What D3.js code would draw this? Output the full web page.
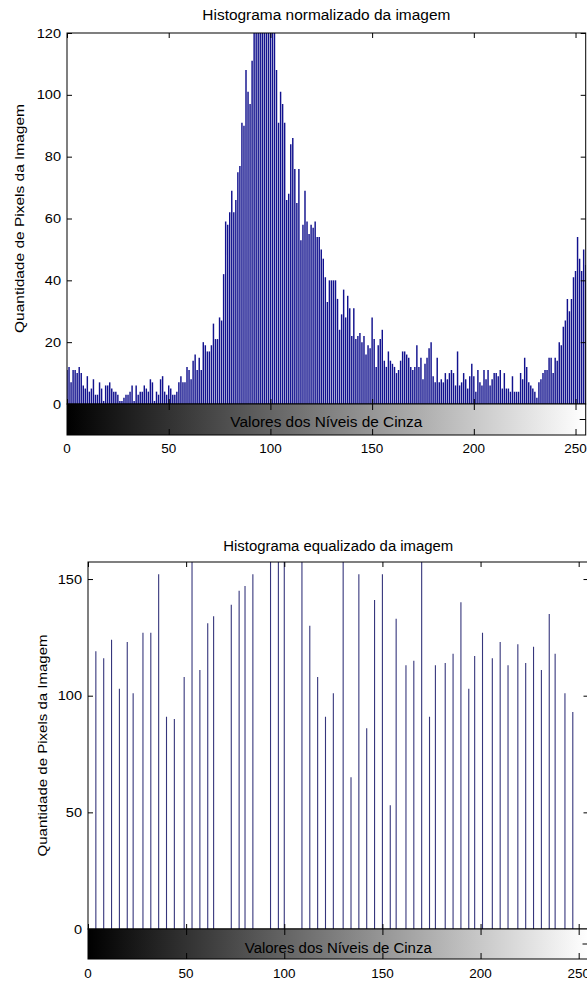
<!DOCTYPE html>
<html>
<head>
<meta charset="utf-8">
<script src="https://cdn.jsdelivr.net/npm/d3@7"></script>
<style>
  html, body { margin: 0; padding: 0; background: #ffffff; }
  svg { display: block; }
  text { font-family: "Liberation Sans", Arial, Helvetica, sans-serif; fill: #000; }
</style>
</head>
<body>
<svg id="chart" width="587" height="982"></svg>
<script>
// ---------------- DATA ----------------
// Top: normalized histogram, one count per grey level 0..255
const grayLevels = d3.range(256);
const normCounts = [
  11,12,7,11,11,10,12,10,6,5, 9,4,5,8,3,3,7,5,1,6,
  6,7,5,4,4,3,1,1,2,3, 3,4,6,1,6,3,4,4,6,5,
  4,8,7,1,4,3,8,9,4,3, 6,5,3,3,4,7,9,7,7,12,
  11,8,14,16,11,15,11,20,19,17, 17,19,26,21,21,28,27,42,59,58,
  62,69,62,66,75,77,91,90,108,101, 97,111,126,138,131,150,162,147,140,155,
  133,128,124,108,91,101,97,91,66,68, 84,86,76,65,76,53,58,69,59,55,
  58,57,59,54,54,50,47,41,33,40, 40,40,40,34,24,29,37,28,35,31,
  22,31,21,22,23,20,22,16,19,18, 28,21,12,19,21,24,14,12,17,14,
  13,12,10,11,14,17,17,16,15,12, 11,12,19,12,15,8,13,15,18,20,
  9,7,15,7,8,7,10,8,10,11, 10,6,17,6,7,10,8,5,9,13,
  9,4,11,7,6,11,8,11,6,8, 10,10,9,11,5,10,5,5,4,9,
  4,4,4,10,8,15,12,7,6,5, 4,2,7,8,10,11,11,15,15,10,
  15,14,20,19,25,27,34,30,34,41, 43,54,47,43,50,45
];
// Bottom: equalized histogram, occupied grey levels and their counts
const eqLevels = [
  4,8,12,16,20,23,28,32,36,40, 44,49,53,57,61,64,73,77,80,84,
  93,97,100,109,113,117,121,125,130,134, 138,142,146,150,154,157,162,166,170,174,
  177,182,186,190,194,197,201,206,210,214, 219,223,227,231,235,238,243,247
];
const eqCounts = [
  119,116,124,103,123,101,127,127,152,91, 90,108,170,111,131,134,139,145,147,152,
  175,168,180,172,130,108,91,101,165,65, 152,86,141,152,53,133,113,115,170,91,
  113,114,118,140,103,117,127,116,123,113, 122,114,121,111,135,118,101,93
];
const xTicks = [0, 50, 100, 150, 200, 250];
const xTickLabels = ["0", "50", "100", "150", "200", "250"];
const topYTicks = [0, 20, 40, 60, 80, 100, 120];
const topYTickLabels = ["0", "20", "40", "60", "80", "100", "120"];
const botYTicks = [0, 50, 100, 150];
const botYTickLabels = ["0", "50", "100", "150"];
const titles = ["Histograma normalizado da imagem", "Histograma equalizado da imagem"];
const yLabel = "Quantidade de Pixels da Imagem";
const xLabel = "Valores dos Níveis de Cinza";

// ---------------- DRAWING ----------------
const svg = d3.select("#chart");
const defs = svg.append("defs");
const grad = defs.append("linearGradient").attr("id", "grayramp")
  .attr("x1", "0%").attr("x2", "100%").attr("y1", "0%").attr("y2", "0%");
grad.append("stop").attr("offset", "0%").attr("stop-color", "#000");
grad.append("stop").attr("offset", "100%").attr("stop-color", "#fff");

function txt(g, x, y, s, o) {
  const t = g.append("text")
    .attr("x", x).attr("y", y)
    .attr("text-anchor", o.anchor || "middle")
    .style("font-size", (o.size || 12) + "px")
    .text(s);
  if (o.len) t.attr("textLength", o.len).attr("lengthAdjust", "spacingAndGlyphs");
  if (o.rotate) t.attr("transform", `rotate(${o.rotate},${x},${y})`);
  return t;
}

function panel(cfg) {
  const g = svg.append("g");
  const x = d3.scaleLinear().domain([0, 255]).range([cfg.left, cfg.right]);
  const y = d3.scaleLinear().domain([0, cfg.ymax]).range([cfg.bottom, cfg.top]);
  const clipId = "clip" + cfg.id;
  defs.append("clipPath").attr("id", clipId).append("rect")
    .attr("x", cfg.left).attr("y", cfg.top)
    .attr("width", cfg.right - cfg.left).attr("height", cfg.bottom - cfg.top);

  // stems
  g.append("g").attr("clip-path", `url(#${clipId})`)
    .selectAll("line").data(cfg.levels.map((lv, i) => [lv, cfg.counts[i]]))
    .join("line")
    .attr("x1", d => x(d[0])).attr("x2", d => x(d[0]))
    .attr("y1", y(0)).attr("y2", d => y(d[1]))
    .attr("stroke", cfg.stemColor).attr("stroke-width", cfg.stemWidth);

  // axes box
  g.append("rect").attr("x", cfg.left).attr("y", cfg.top)
    .attr("width", cfg.right - cfg.left).attr("height", cfg.bottom - cfg.top)
    .attr("fill", "none").attr("stroke", "#000").attr("stroke-width", 1);

  const tickStyle = sel => { sel.select(".domain").remove(); sel.selectAll("text").remove();
    sel.selectAll("line").attr("stroke", "#000"); };
  g.append("g").attr("transform", `translate(${cfg.left},0)`)
    .call(d3.axisLeft(y).tickValues(cfg.yTicks).tickSizeInner(-5).tickSizeOuter(0)).call(tickStyle);
  g.append("g").attr("transform", `translate(${cfg.right},0)`)
    .call(d3.axisRight(y).tickValues(cfg.yTicks).tickSizeInner(-5).tickSizeOuter(0)).call(tickStyle);
  g.append("g").attr("transform", `translate(0,${cfg.top})`)
    .call(d3.axisTop(x).tickValues(xTicks).tickSizeInner(-5).tickSizeOuter(0)).call(tickStyle);
  g.append("g").attr("transform", `translate(0,${cfg.bottom})`)
    .call(d3.axisBottom(x).tickValues(xTicks).tickSizeInner(-5).tickSizeOuter(0)).call(tickStyle);

  // colour bar
  g.append("rect").attr("x", cfg.left).attr("y", cfg.bottom)
    .attr("width", cfg.right - cfg.left).attr("height", cfg.cbBottom - cfg.bottom)
    .attr("fill", "url(#grayramp)").attr("stroke", "#000").attr("stroke-width", 1);
  g.append("g").attr("transform", `translate(0,${cfg.bottom})`)
    .call(d3.axisBottom(x).tickValues(xTicks.slice(1)).tickSizeInner(6).tickSizeOuter(0)).call(tickStyle);
  g.append("g").attr("transform", `translate(0,${cfg.cbBottom})`)
    .call(d3.axisTop(x).tickValues(xTicks.slice(1)).tickSizeInner(6).tickSizeOuter(0)).call(tickStyle);
  const cbMid = (cfg.bottom + cfg.cbBottom) / 2;
  g.append("line").attr("x1", cfg.right - 6).attr("x2", cfg.right)
    .attr("y1", cbMid).attr("y2", cbMid).attr("stroke", "#000");

  // tick labels
  cfg.yTicks.forEach((v, i) => {
    const s = cfg.yTickLabels[i];
    txt(g, cfg.left - 6, y(v) + 4.5, s, { anchor: "end", size: 12, len: s.length * 8.1 });
  });
  xTicks.forEach((v, i) => {
    const s = xTickLabels[i];
    txt(g, x(v), cfg.xLabelY, s, { anchor: "middle", size: 12, len: s.length * 7.5 });
  });

  // titles and labels
  const cx = (cfg.left + cfg.right) / 2;
  txt(g, cx, cfg.titleY, cfg.title, { size: 14, len: cfg.titleLen });
  txt(g, cx, cfg.xAxisLabelY, xLabel, { size: 14, len: cfg.xLabelLen });
  txt(g, cfg.yLabelX, (cfg.top + cfg.bottom) / 2, yLabel,
      { size: 13, len: cfg.yLabelLen, rotate: -90 });
}

panel({
  id: 1, left: 67, right: 585.7, top: 33, bottom: 404, cbBottom: 435, ymax: 120,
  levels: grayLevels, counts: normCounts, stemColor: "#12128e", stemWidth: 1.45,
  yTicks: topYTicks, yTickLabels: topYTickLabels,
  xLabelY: 453, titleY: 19.5, titleLen: 248, title: titles[0],
  xAxisLabelY: 427, xLabelLen: 192, yLabelX: 24, yLabelLen: 229
});

panel({
  id: 2, left: 88, right: 588.5, top: 562, bottom: 929, cbBottom: 959, ymax: 157.3,
  levels: eqLevels, counts: eqCounts, stemColor: "#36367c", stemWidth: 1.1,
  yTicks: botYTicks, yTickLabels: botYTickLabels,
  xLabelY: 978, titleY: 551, titleLen: 230, title: titles[1],
  xAxisLabelY: 953, xLabelLen: 187, yLabelX: 47, yLabelLen: 222
});
</script>
</body>
</html>
